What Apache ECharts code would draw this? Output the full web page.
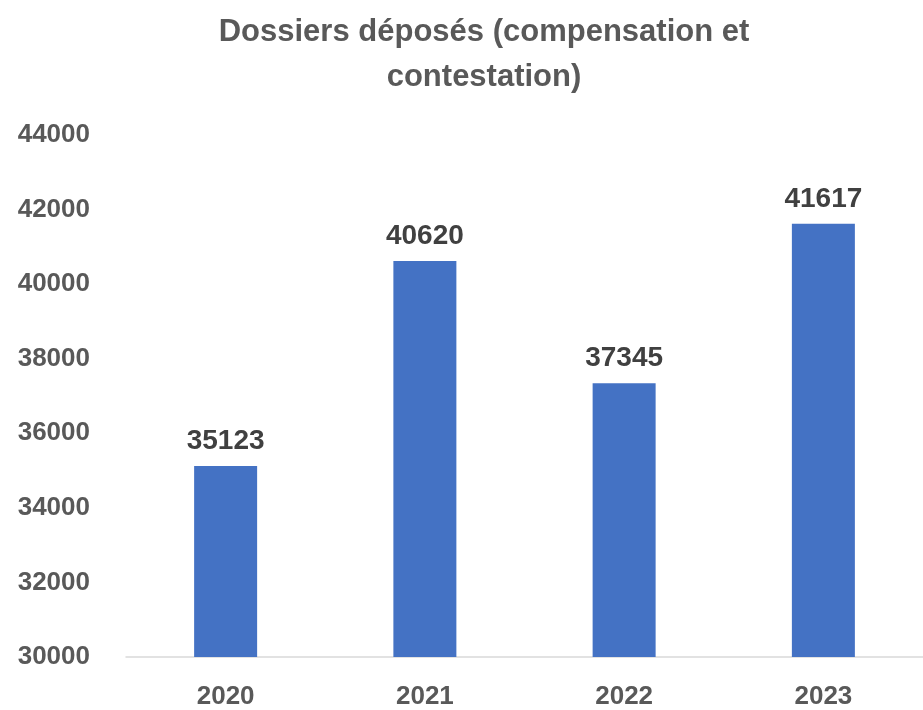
<html>
<head>
<meta http-equiv="content-type" content="text/html; charset=utf-8">
<script src="https://cdn.jsdelivr.net/npm/echarts@6/dist/echarts.min.js"></script>
<style>
	html, body { margin: 0; padding: 0; background: #ffffff; }
	#chart { width: 923px; height: 710px; }
</style>
<title>Dossiers déposés</title>
</head>
<body>
<div id="chart"></div>
<script type="text/javascript">
// data
var years = ['2020', '2021', '2022', '2023'];
var dossiers = [35123, 40620, 37345, 41617];
var y_min = 30000;
var y_max = 44000;
var y_step = 2000;

var font = "'Liberation Sans', 'DejaVu Sans', sans-serif";

var chart = echarts.init(document.getElementById('chart'));

chart.setOption({
	animation: false,
	title: {
		text: 'Dossiers déposés (compensation et\ncontestation)',
		left: 479,
		textAlign: 'center',
		top: 5,
		textStyle: {
			fontFamily: font,
			fontSize: 31,
			fontWeight: 'bold',
			color: '#595959',
			lineHeight: 45
		}
	},
	grid: {
		left: 126,
		right: -10,
		top: 135,
		bottom: 52
	},
	xAxis: {
		type: 'category',
		data: years,
		axisLine: { lineStyle: { color: '#d9d9d9', width: 1.5 } },
		axisTick: { show: false },
		axisLabel: {
			margin: 27,
			fontFamily: font,
			fontSize: 26,
			fontWeight: 'bold',
			color: '#595959'
		}
	},
	yAxis: {
		type: 'value',
		min: y_min,
		max: y_max,
		interval: y_step,
		splitLine: { show: false },
		axisLine: { show: false },
		axisTick: { show: false },
		axisLabel: {
			margin: 36,
			formatter: function (v) { return String(v); },
			fontFamily: font,
			fontSize: 26,
			fontWeight: 'bold',
			color: '#595959'
		}
	},
	series: [{
		type: 'bar',
		data: dossiers,
		barWidth: 63,
		itemStyle: { color: '#4472c4' },
		label: {
			show: true,
			position: 'top',
			distance: 11,
			fontFamily: font,
			fontSize: 28,
			fontWeight: 'bold',
			color: '#404040'
		}
	}]
});
</script>
</body>
</html>
